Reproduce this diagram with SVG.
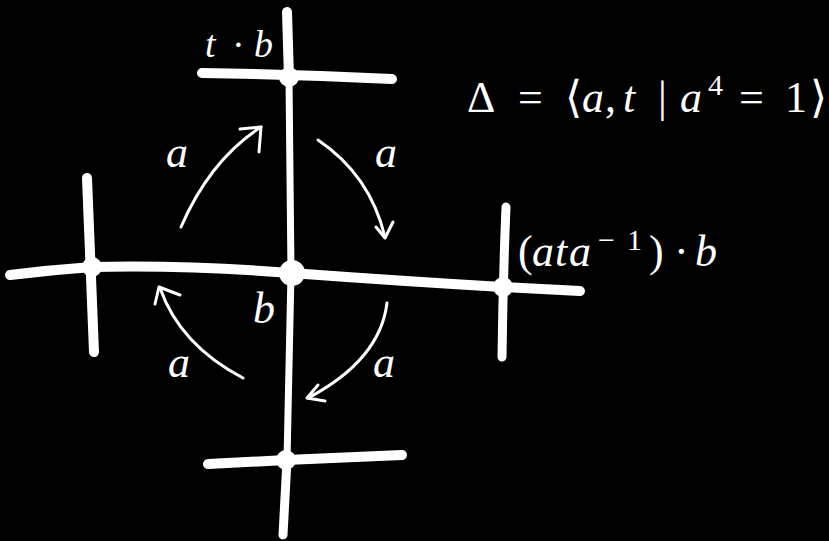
<svg xmlns="http://www.w3.org/2000/svg" width="829" height="541" viewBox="0 0 829 541">
<style>
.thick{fill:none;stroke:#fff;stroke-linecap:round;stroke-linejoin:round}
.arr{fill:none;stroke:#fff;stroke-width:3;stroke-linecap:round;stroke-linejoin:round}
.dot{fill:#fff}
text{fill:#fff;font-family:"Liberation Serif","DejaVu Serif",serif}
.it{font-style:italic}
.up{font-style:normal}
</style>
<rect width="829" height="541" fill="#000"/>
<g id="edges">
  <path class="thick" stroke-width="10" d="M287,12 L289,78"/>
  <path class="thick" stroke-width="7" d="M289,78 L291,273 L287,460"/>
  <path class="thick" stroke-width="9" d="M287,460 L283,535"/>
  <path class="thick" stroke-width="10" d="M10,275 Q50,270 92,267 Q190,265 291,273 Q400,281 502,287 L580,291"/>
</g>
<g id="node-top">
  <path class="thick" stroke-width="10" d="M202,73 Q290,74 392,79"/>
  <circle class="dot" cx="289" cy="77" r="10"/>
  <text class="it" y="57" font-size="38"><tspan x="205">t</tspan><tspan class="up" x="232">·</tspan><tspan x="254">b</tspan></text>
</g>
<g id="node-left">
  <path class="thick" stroke-width="10" d="M87,178 Q90,260 94,352"/>
  <circle class="dot" cx="92" cy="267" r="10"/>
</g>
<g id="node-center">
  <circle class="dot" cx="292" cy="273" r="13"/>
  <text class="it" x="253" y="323" font-size="44">b</text>
</g>
<g id="node-right">
  <path class="thick" stroke-width="9" d="M506,207 Q503,280 502,357"/>
  <circle class="dot" cx="503" cy="287" r="10"/>
  <text y="266" font-size="44"><tspan x="518">(</tspan><tspan class="it" x="532">a</tspan><tspan class="it" x="555">t</tspan><tspan class="it" x="569">a</tspan><tspan font-size="30" x="598" y="250">−</tspan><tspan font-size="30" x="627" y="250">1</tspan><tspan x="649" y="266">)</tspan><tspan x="674">·</tspan><tspan class="it" x="695">b</tspan></text>
</g>
<g id="node-bottom">
  <path class="thick" stroke-width="10" d="M208,464 Q250,462 286,460 L402,455"/>
  <circle class="dot" cx="286" cy="460" r="10"/>
</g>
<g id="connectors">
  <path class="arr" d="M181,227 Q210,160 261,127"/>
  <path class="arr" d="M240,129 L261,127 L259,152"/>
  <path class="arr" d="M318,140 Q370,175 385,237"/>
  <path class="arr" d="M376,227 L385,238 L393,222"/>
  <path class="arr" d="M243,378 Q180,345 160,288"/>
  <path class="arr" d="M155,304 L159,287 L180,295"/>
  <path class="arr" d="M387,303 Q380,360 308,398"/>
  <path class="arr" d="M318,385 L307,398 L325,401"/>
  <text class="it" x="166" y="167" font-size="44">a</text>
  <text class="it" x="375" y="167" font-size="44">a</text>
  <text class="it" x="168" y="377" font-size="44">a</text>
  <text class="it" x="373" y="377" font-size="44">a</text>
</g>
<g id="presentation">
  <text y="112" font-size="44"><tspan x="467">Δ</tspan><tspan x="518">=</tspan><tspan x="565">⟨</tspan><tspan class="it" x="582">a</tspan><tspan x="605">,</tspan><tspan class="it" x="623">t</tspan><tspan x="658">|</tspan><tspan class="it" x="680">a</tspan><tspan font-size="30" x="708" y="95">4</tspan><tspan x="739" y="112">=</tspan><tspan x="785">1</tspan><tspan x="810">⟩</tspan></text>
</g>
</svg>
